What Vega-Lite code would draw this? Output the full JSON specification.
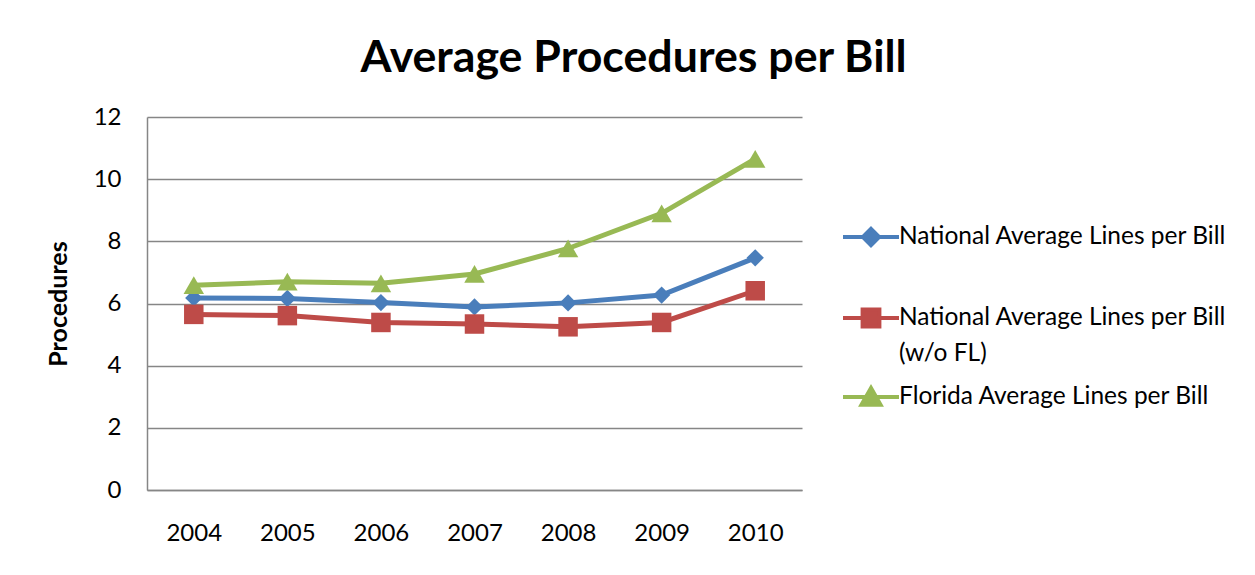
{
  "$schema": "https://vega.github.io/schema/vega-lite/v6.json",
  "width": 655,
  "height": 373,
  "autosize": "none",
  "padding": {"left": 147, "top": 117, "right": 453, "bottom": 85},
  "background": "white",
  "title": {
    "text": "Average Procedures per Bill",
    "font": "Lato",
    "fontSize": 44.7,
    "fontWeight": "bold",
    "color": "black",
    "anchor": "middle",
    "frame": "bounds",
    "offset": 23,
    "dx": -3
  },
  "data": {
    "values": [
      {"year": "2004", "series": "National Average Lines per Bill", "value": 6.18},
      {"year": "2005", "series": "National Average Lines per Bill", "value": 6.16},
      {"year": "2006", "series": "National Average Lines per Bill", "value": 6.03},
      {"year": "2007", "series": "National Average Lines per Bill", "value": 5.89},
      {"year": "2008", "series": "National Average Lines per Bill", "value": 6.02},
      {"year": "2009", "series": "National Average Lines per Bill", "value": 6.27},
      {"year": "2010", "series": "National Average Lines per Bill", "value": 7.47},
      {"year": "2004", "series": "National Average Lines per Bill (w/o FL)", "value": 5.65},
      {"year": "2005", "series": "National Average Lines per Bill (w/o FL)", "value": 5.61},
      {"year": "2006", "series": "National Average Lines per Bill (w/o FL)", "value": 5.39},
      {"year": "2007", "series": "National Average Lines per Bill (w/o FL)", "value": 5.34},
      {"year": "2008", "series": "National Average Lines per Bill (w/o FL)", "value": 5.25},
      {"year": "2009", "series": "National Average Lines per Bill (w/o FL)", "value": 5.39},
      {"year": "2010", "series": "National Average Lines per Bill (w/o FL)", "value": 6.41},
      {"year": "2004", "series": "Florida Average Lines per Bill", "value": 6.59},
      {"year": "2005", "series": "Florida Average Lines per Bill", "value": 6.70},
      {"year": "2006", "series": "Florida Average Lines per Bill", "value": 6.65},
      {"year": "2007", "series": "Florida Average Lines per Bill", "value": 6.95},
      {"year": "2008", "series": "Florida Average Lines per Bill", "value": 7.77},
      {"year": "2009", "series": "Florida Average Lines per Bill", "value": 8.9},
      {"year": "2010", "series": "Florida Average Lines per Bill", "value": 10.65}
    ]
  },
  "encoding": {
    "x": {
      "field": "year",
      "type": "ordinal",
      "scale": {"type": "point", "padding": 0.5},
      "axis": {
        "title": null,
        "labelAngle": 0,
        "labelFont": "Lato",
        "labelFontSize": 24,
        "labelColor": "black",
        "labelPadding": 31,
        "ticks": false,
        "domainColor": "#868686",
        "domainWidth": 1.5,
        "grid": false
      }
    },
    "y": {
      "field": "value",
      "type": "quantitative",
      "scale": {"domain": [0, 12], "nice": false},
      "axis": {
        "values": [0, 2, 4, 6, 8, 10, 12],
        "title": "Procedures",
        "titleFont": "Lato",
        "titleFontSize": 25,
        "titleFontWeight": "bold",
        "titleColor": "black",
        "titlePadding": 22,
        "labelFont": "Lato",
        "labelFontSize": 24,
        "labelColor": "black",
        "labelPadding": 26,
        "ticks": false,
        "domainColor": "#868686",
        "domainWidth": 1.5,
        "gridColor": "#868686",
        "gridWidth": 1.5
      }
    }
  },
  "layer": [
    {
      "transform": [{"filter": "datum.series == 'National Average Lines per Bill'"}],
      "encoding": {
        "color": {
          "field": "series",
          "type": "nominal",
          "scale": {"domain": ["National Average Lines per Bill"], "range": ["#4A7EBB"]},
          "legend": {
            "title": null,
            "orient": "none",
            "legendX": 694,
            "legendY": 90,
            "padding": 0,
            "symbolType": "M-1,0H1M0,-0.29L0.29,0L0,0.29L-0.29,0Z",
            "symbolSize": 3136,
            "symbolFillColor": "#4A7EBB",
            "symbolStrokeColor": "#4A7EBB",
            "symbolStrokeWidth": 4,
            "symbolOpacity": 1,
            "labelOffset": -2,
            "labelFont": "Lato",
            "labelFontSize": 24.5,
            "labelColor": "black",
            "labelLimit": 500
          }
        }
      },
      "layer": [
        {"mark": {"type": "line", "strokeWidth": 5}},
        {"mark": {"type": "point", "shape": "diamond", "filled": true, "opacity": 1, "size": 300}}
      ]
    },
    {
      "transform": [{"filter": "datum.series == 'National Average Lines per Bill (w/o FL)'"}],
      "encoding": {
        "color": {
          "field": "series",
          "type": "nominal",
          "scale": {"domain": ["National Average Lines per Bill (w/o FL)"], "range": ["#BE4B48"]},
          "legend": {
            "title": null,
            "orient": "none",
            "legendX": 694,
            "legendY": 171,
            "padding": 0,
            "symbolType": "M-1,0H1M-0.3,-0.3H0.3V0.3H-0.3Z",
            "symbolSize": 3136,
            "symbolFillColor": "#BE4B48",
            "symbolStrokeColor": "#BE4B48",
            "symbolStrokeWidth": 4,
            "symbolOpacity": 1,
            "labelOffset": -2,
            "labelFont": "Lato",
            "labelFontSize": 24.5,
            "labelColor": "black",
            "labelLimit": 500,
            "labelExpr": "['National Average Lines per Bill', '(w/o FL)']"
          }
        }
      },
      "layer": [
        {"mark": {"type": "line", "strokeWidth": 5}},
        {"mark": {"type": "point", "shape": "square", "filled": true, "opacity": 1, "size": 380}}
      ]
    },
    {
      "transform": [{"filter": "datum.series == 'Florida Average Lines per Bill'"}],
      "encoding": {
        "color": {
          "field": "series",
          "type": "nominal",
          "scale": {"domain": ["Florida Average Lines per Bill"], "range": ["#98B954"]},
          "legend": {
            "title": null,
            "orient": "none",
            "legendX": 694,
            "legendY": 250,
            "padding": 0,
            "symbolType": "M-1,0H1M0,-0.32L0.34,0.28H-0.34Z",
            "symbolSize": 3136,
            "symbolFillColor": "#98B954",
            "symbolStrokeColor": "#98B954",
            "symbolStrokeWidth": 4,
            "symbolOpacity": 1,
            "labelOffset": -2,
            "labelFont": "Lato",
            "labelFontSize": 24.5,
            "labelColor": "black",
            "labelLimit": 500
          }
        }
      },
      "layer": [
        {"mark": {"type": "line", "strokeWidth": 5}},
        {"mark": {"type": "point", "shape": "triangle-up", "filled": true, "opacity": 1, "size": 420}}
      ]
    }
  ],
  "resolve": {"scale": {"color": "independent"}, "legend": {"color": "independent"}},
  "config": {
    "view": {"stroke": null},
    "style": {"guide-label": {"lineHeight": 36}}
  }
}
